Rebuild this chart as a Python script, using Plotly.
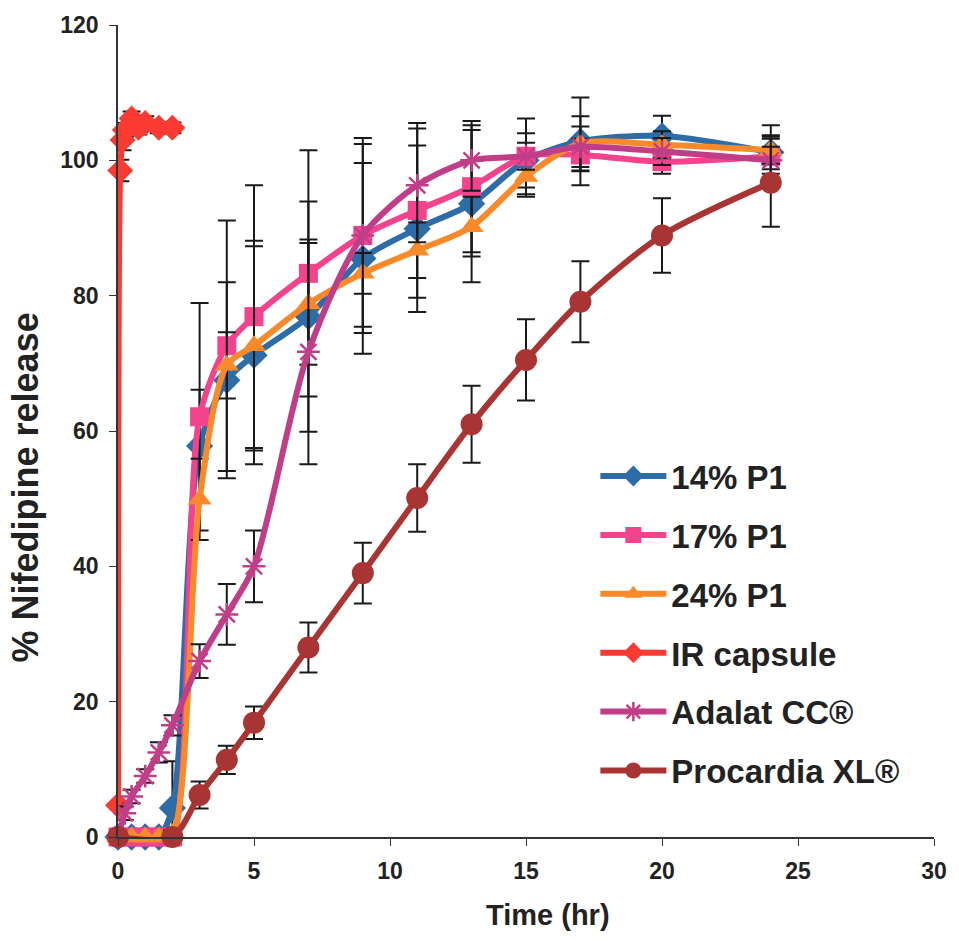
import plotly.graph_objects as go

# ---- data ----
t_p1 = [0, 0.5, 1, 1.5, 2, 3, 4, 5, 7, 9, 11, 13, 15, 17, 20, 24]
p14 = [0, 0, 0, 0, 4.3, 57.8, 67.5, 71.2, 76.9, 85.5, 89.9, 93.6, 100.0, 102.8, 103.6, 101.2]
p14_err = [0, 0, 0, 0, 6.9, 8.3, 14.5, 16.1, 17.0, 14.1, 12.3, 11.6, 4.0, 6.5, 3.0, 2.5]
p17 = [0, 0, 0, 0, 0, 62.1, 72.6, 76.9, 83.3, 88.9, 92.6, 96.1, 100.6, 100.8, 99.8, 100.6]
p17_err = [0, 0, 0, 0, 0, 16.8, 18.5, 19.4, 18.2, 14.4, 12.9, 9.7, 5.6, 2.4, 1.8, 4.6]
p24 = [0, 0, 0, 0, 0.5, 49.9, 69.7, 72.6, 78.8, 83.3, 86.7, 90.2, 97.6, 102.5, 102.3, 101.5]
p24_err = [0, 0, 0, 0, 0.5, 6.0, 4.9, 15.5, 9.0, 3.0, 4.1, 4.4, 3.0, 4.0, 2.0, 2.0]

t_ir = [0, 0.083, 0.167, 0.25, 0.5, 0.75, 1, 1.5, 2]
ir = [4.7, 98.5, 103.0, 104.5, 106.2, 104.8, 105.5, 104.8, 104.8]
ir_err = [0.5, 1.6, 1.5, 1.0, 1.0, 1.0, 1.0, 0.8, 0.8]

t_ad = [0, 0.25, 0.5, 1, 1.5, 2, 3, 4, 5, 7, 9, 11, 13, 15, 17, 20, 24]
ad = [0, 3.5, 6.0, 9.0, 12.5, 16.5, 26.0, 32.9, 40.0, 71.7, 88.9, 96.3, 100.0, 100.6, 102.0, 101.3, 100.0]
ad_err = [0, 1, 1, 1, 1.5, 1.5, 2.5, 4.5, 5.3, 16.6, 13.5, 8.4, 4.5, 2.0, 3.0, 2.0, 2.0]

t_pr = [0, 2, 3, 4, 5, 7, 9, 11, 13, 15, 17, 20, 24]
pr = [0, 0, 6.2, 11.4, 16.9, 28.0, 39.0, 50.1, 61.0, 70.5, 79.1, 88.9, 96.7]
pr_err = [0, 0, 2.0, 2.1, 2.4, 3.7, 4.5, 5.0, 5.7, 6.0, 6.0, 5.5, 6.5]

x_ticks = [0, 5, 10, 15, 20, 25, 30]
y_ticks = [0, 20, 40, 60, 80, 100, 120]
x_title = "Time (hr)"
y_title = "% Nifedipine release"

series = [
    ("14% P1", t_p1, p14, p14_err, "#2E6CA8", "diamond", 21),
    ("17% P1", t_p1, p17, p17_err, "#F2438C", "square", 19),
    ("24% P1", t_p1, p24, p24_err, "#F98A2B", "triangle-up", 21),
    ("IR capsule", t_ir, ir, ir_err, "#FA3A33", "diamond", 20),
    ("Adalat CC®", t_ad, ad, ad_err, "#C03E88", "asterisk-open", 19),
    ("Procardia XL®", t_pr, pr, pr_err, "#A93434", "circle", 22),
]

FONT = "Liberation Sans, Arial, sans-serif"

fig = go.Figure()
for name, t, v, e, col, sym, sz in series:
    marker = dict(symbol=sym, size=sz, color=col)
    if sym == "asterisk-open":
        marker["line"] = dict(color=col, width=2.5)
    fig.add_trace(go.Scatter(
        x=t, y=v, name=name, mode="lines+markers",
        line=dict(color=col, width=6, shape="spline", smoothing=0.8),
        marker=marker,
        error_y=dict(type="data", array=e, visible=True, color="#1a1a1a",
                     thickness=2, width=9),
        cliponaxis=False, legendgroup=name,
    ))

fig.update_layout(
    width=959, height=941,
    margin=dict(l=118, r=21, t=25, b=104),
    plot_bgcolor="white", paper_bgcolor="white",
    font=dict(family=FONT, color="#222222"),
    showlegend=True,
    legend=dict(x=0.585, y=0.479, xanchor="left", yanchor="top",
                font=dict(size=33, color="#222222", family=FONT, weight="bold"),
                bgcolor="rgba(255,255,255,0)", tracegroupgap=13,
                traceorder="grouped", itemwidth=66),
    xaxis=dict(range=[0, 30], tickvals=x_ticks, ticktext=[str(v) for v in x_ticks],
               showgrid=False, zeroline=False, showline=True, linecolor="#333333",
               linewidth=1.5, ticks="outside", ticklen=7, tickcolor="#333333",
               ticklabelstandoff=6,
               tickfont=dict(size=23, weight="bold")),
    yaxis=dict(range=[0, 120], tickvals=y_ticks, ticktext=[str(v) for v in y_ticks],
               showgrid=False, zeroline=False, showline=True, linecolor="#333333",
               linewidth=1.5, ticks="outside", ticklen=7, tickcolor="#333333",
               ticklabelstandoff=6,
               tickfont=dict(size=23, weight="bold")),
    annotations=[
        dict(text=x_title, xref="paper", yref="paper", x=(550 - 118) / 820, y=-(915 - 837) / 812,
             xanchor="center", yanchor="middle", showarrow=False,
             font=dict(size=29, weight="bold", family=FONT, color="#222222")),
        dict(text=y_title, xref="paper", yref="paper", x=-(118 - 25) / 820, y=(837 - 487) / 812,
             xanchor="center", yanchor="middle", showarrow=False, textangle=-90,
             font=dict(size=36, weight="bold", family=FONT, color="#222222")),
    ],
)

fig.write_html("out.html")
